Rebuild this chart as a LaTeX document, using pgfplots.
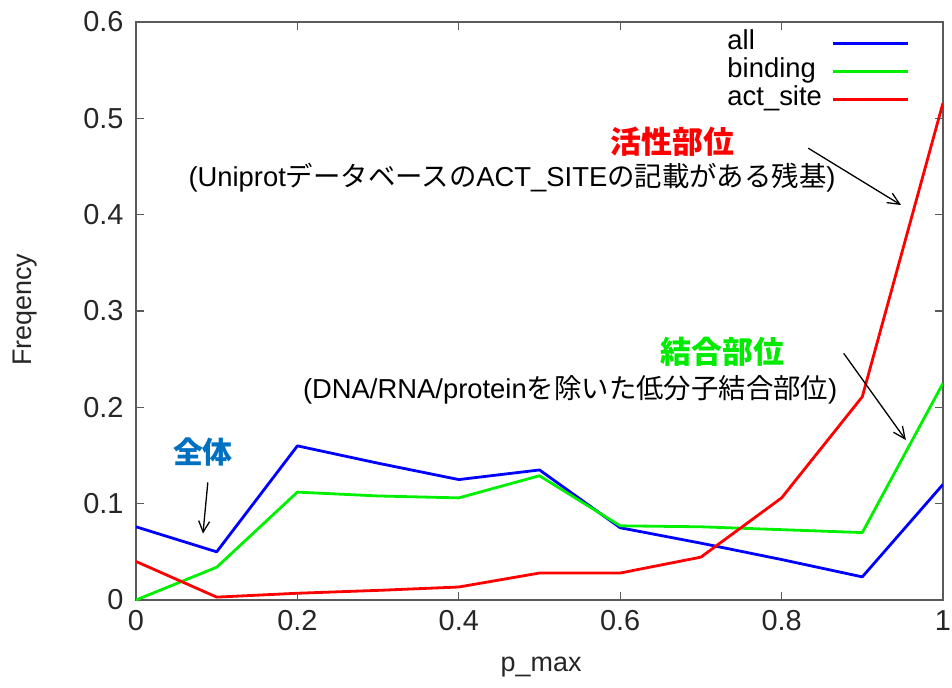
\documentclass[border=0pt]{standalone}
\usepackage{fontspec}
\setmainfont{Liberation Sans}
\newfontfamily\cjk{Noto Sans CJK JP}
\usepackage{pgfplots}
\pgfplotsset{compat=1.18}
\usetikzlibrary{arrows.meta}
\definecolor{cblue}{RGB}{0,0,255}
\definecolor{cgreen}{RGB}{0,240,0}
\definecolor{cred}{RGB}{255,0,0}
\definecolor{ablue}{RGB}{0,112,192}
\definecolor{agreen}{RGB}{0,235,0}
\definecolor{axgray}{RGB}{90,90,90}
\begin{document}
\begin{tikzpicture}
\path[use as bounding box] (-136bp,-88bp) rectangle (816bp,600bp);
\begin{axis}[
  scale only axis, width=807bp, height=578bp,
  xmin=0, xmax=1, ymin=0, ymax=0.6,
  xtick={0,0.2,0.4,0.6,0.8,1},
  ytick={0,0.1,0.2,0.3,0.4,0.5,0.6},
  axis line style={axgray, line width=1.5bp},
  tick style={axgray, line width=1.2bp},
  tick align=inside, major tick length=8bp,
  /pgf/number format/assume math mode=true,
  tick label style={font=\fontsize{29}{29}\selectfont, text=black!85},
  xticklabel style={yshift=-7bp},
  yticklabel style={xshift=-9bp},
  xlabel={p\_max}, ylabel={Freqency},
  label style={font=\fontsize{27}{27}\selectfont, text=black!85},
  xlabel style={at={(axis description cs:0.502,-0.116)}, anchor=center},
  ylabel style={at={(axis description cs:-0.138,0.502)}, anchor=center, rotate=0},
  legend plot pos=right,
  legend cell align=left,
  legend image code/.code={\draw[#1] (0bp,0bp) -- (75bp,0bp);},
  legend style={draw=none, fill=none, at={(axis description cs:0.959,0.985)}, anchor=north east,
    font=\fontsize{27.5}{27.5}\selectfont, row sep=3bp, column sep=10bp, inner sep=0bp,
    nodes={inner sep=0bp, text height=19bp, text depth=6bp}},
  every axis plot/.append style={line width=2.8bp, line join=round},
]
\addplot[cblue] coordinates {(0,0.076) (0.1,0.050) (0.2,0.160) (0.3,0.142) (0.4,0.125) (0.5,0.135) (0.6,0.075) (0.7,0.059) (0.8,0.042) (0.9,0.024) (1.0,0.120)};
\addlegendentry{all}
\addplot[cgreen] coordinates {(0,0.000) (0.1,0.034) (0.2,0.112) (0.3,0.108) (0.4,0.106) (0.5,0.129) (0.6,0.077) (0.7,0.076) (0.8,0.073) (0.9,0.070) (1.0,0.225)};
\addlegendentry{binding}
\addplot[cred] coordinates {(0,0.040) (0.1,0.003) (0.2,0.007) (0.3,0.010) (0.4,0.0135) (0.5,0.028) (0.6,0.028) (0.7,0.0445) (0.8,0.106) (0.9,0.211) (1.0,0.516)};
\addlegendentry{act\_site}

\node[text=ablue, font=\cjk\bfseries\fontsize{30}{30}\selectfont] at (axis cs:0.083,0.154) {全体};
\draw[-{Straight Barb[length=11bp,width=11bp]}, black, line width=1.3bp] (axis cs:0.089,0.122) -- (axis cs:0.083,0.069);

\node[text=cred, font=\cjk\bfseries\fontsize{31}{31}\selectfont] at (axis cs:0.665,0.476) {活性部位};
\node[text=black, font=\fontsize{27.5}{27.5}\selectfont] at (axis cs:0.466,0.438) {(Uniprot{\cjk データベースの}ACT\_SITE{\cjk の記載がある残基})};
\draw[-{Straight Barb[length=12bp,width=11bp]}, black, line width=1.3bp] (axis cs:0.833,0.469) -- (axis cs:0.948,0.410);

\node[text=agreen, font=\cjk\bfseries\fontsize{31}{31}\selectfont] at (axis cs:0.727,0.2575) {結合部位};
\node[text=black, font=\fontsize{27.5}{27.5}\selectfont] at (axis cs:0.538,0.218) {(DNA/RNA/protein{\cjk を除いた低分子結合部位})};
\draw[-{Straight Barb[length=12bp,width=11bp]}, black, line width=1.3bp] (axis cs:0.877,0.256) -- (axis cs:0.954,0.166);
\end{axis}
\end{tikzpicture}
\end{document}
